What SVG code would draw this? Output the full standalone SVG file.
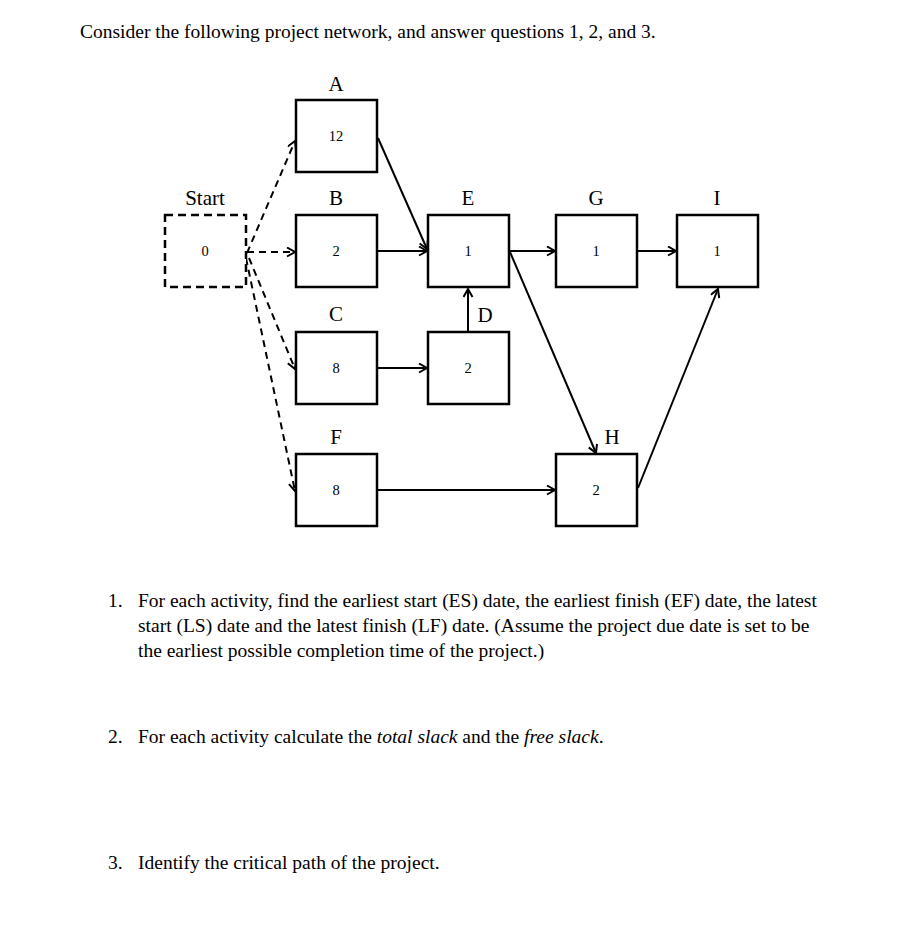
<svg xmlns="http://www.w3.org/2000/svg" width="914" height="932" viewBox="0 0 914 932">
<defs>
<marker id="arr" markerWidth="12" markerHeight="12" refX="9" refY="5" orient="auto" markerUnits="userSpaceOnUse">
<path d="M1,0.5 L9,5 L1,9.5" fill="none" stroke="#000" stroke-width="2"/>
</marker>
<style>
.box{fill:#fff;stroke:#000;stroke-width:2.5}
.dbox{fill:#fff;stroke:#000;stroke-width:2.5;stroke-dasharray:8 5}
.lbl{font-family:"Liberation Serif","Times New Roman",serif;font-size:21px;text-anchor:middle;fill:#000}
.num{font-family:"Liberation Serif","Times New Roman",serif;font-size:14.5px;text-anchor:middle;fill:#000}
.txt{font-family:"Liberation Serif","Times New Roman",serif;font-size:19.5px;fill:#000}
.ln{fill:none;stroke:#000;stroke-width:2;marker-end:url(#arr)}
.dl{fill:none;stroke:#000;stroke-width:2;stroke-dasharray:7 5;marker-end:url(#arr)}
</style>
</defs>
<rect width="914" height="932" fill="#fff"/>
<text class="txt" x="80" y="38">Consider the following project network, and answer questions 1, 2, and 3.</text>

<g id="connectors">
<line class="dl" x1="247" y1="253" x2="295" y2="141"/>
<line class="dl" x1="247" y1="252" x2="295" y2="252"/>
<line class="dl" x1="249" y1="258" x2="295" y2="369"/>
<line class="dl" x1="246" y1="258" x2="295" y2="491"/>
<line class="ln" x1="378" y1="138" x2="427" y2="249"/>
<line class="ln" x1="378" y1="251" x2="427" y2="251"/>
<line class="ln" x1="378" y1="368" x2="427" y2="368"/>
<line class="ln" x1="468" y1="331" x2="468" y2="289"/>
<line class="ln" x1="510" y1="251" x2="555" y2="251"/>
<line class="ln" x1="638" y1="251" x2="676" y2="251"/>
<line class="ln" x1="510" y1="252" x2="596" y2="453"/>
<line class="ln" x1="378" y1="490" x2="555" y2="490"/>
<line class="ln" x1="638" y1="488" x2="718" y2="289"/>
</g>

<g id="node-start">
<rect class="dbox" x="165" y="215" width="81" height="72"/>
<text class="lbl" x="205" y="205">Start</text>
<text class="num" x="205" y="256">0</text>
</g>
<g id="node-A">
<rect class="box" x="296" y="100" width="81" height="72"/>
<text class="lbl" x="336" y="91">A</text>
<text class="num" x="336" y="141">12</text>
</g>
<g id="node-B">
<rect class="box" x="296" y="215" width="81" height="72"/>
<text class="lbl" x="336" y="205">B</text>
<text class="num" x="336" y="256">2</text>
</g>
<g id="node-C">
<rect class="box" x="296" y="332" width="81" height="72"/>
<text class="lbl" x="336" y="321">C</text>
<text class="num" x="336" y="373">8</text>
</g>
<g id="node-F">
<rect class="box" x="296" y="454" width="81" height="72"/>
<text class="lbl" x="336" y="444">F</text>
<text class="num" x="336" y="495">8</text>
</g>
<g id="node-E">
<rect class="box" x="428" y="215" width="81" height="72"/>
<text class="lbl" x="468" y="205">E</text>
<text class="num" x="468" y="256">1</text>
</g>
<g id="node-D">
<rect class="box" x="428" y="332" width="81" height="72"/>
<text class="lbl" x="485" y="322">D</text>
<text class="num" x="468" y="373">2</text>
</g>
<g id="node-G">
<rect class="box" x="556" y="215" width="81" height="72"/>
<text class="lbl" x="596" y="205">G</text>
<text class="num" x="596" y="256">1</text>
</g>
<g id="node-I">
<rect class="box" x="677" y="215" width="81" height="72"/>
<text class="lbl" x="717" y="205">I</text>
<text class="num" x="717" y="256">1</text>
</g>
<g id="node-H">
<rect class="box" x="556" y="454" width="81" height="72"/>
<text class="lbl" x="612" y="444">H</text>
<text class="num" x="596" y="495">2</text>
</g>

<text class="txt" x="108" y="607">1.</text>
<text class="txt" x="138" y="607">For each activity, find the earliest start (ES) date, the earliest finish (EF) date, the latest</text>
<text class="txt" x="138" y="632">start (LS) date and the latest finish (LF) date.  (Assume the project due date is set to be</text>
<text class="txt" x="138" y="657">the earliest possible completion time of the project.)</text>
<text class="txt" x="108" y="743">2.</text>
<text class="txt" x="138" y="743">For each activity calculate the <tspan font-style="italic">total slack</tspan> and the <tspan font-style="italic">free slack</tspan>.</text>
<text class="txt" x="108" y="869">3.</text>
<text class="txt" x="138" y="869">Identify the critical path of the project.</text>
</svg>
